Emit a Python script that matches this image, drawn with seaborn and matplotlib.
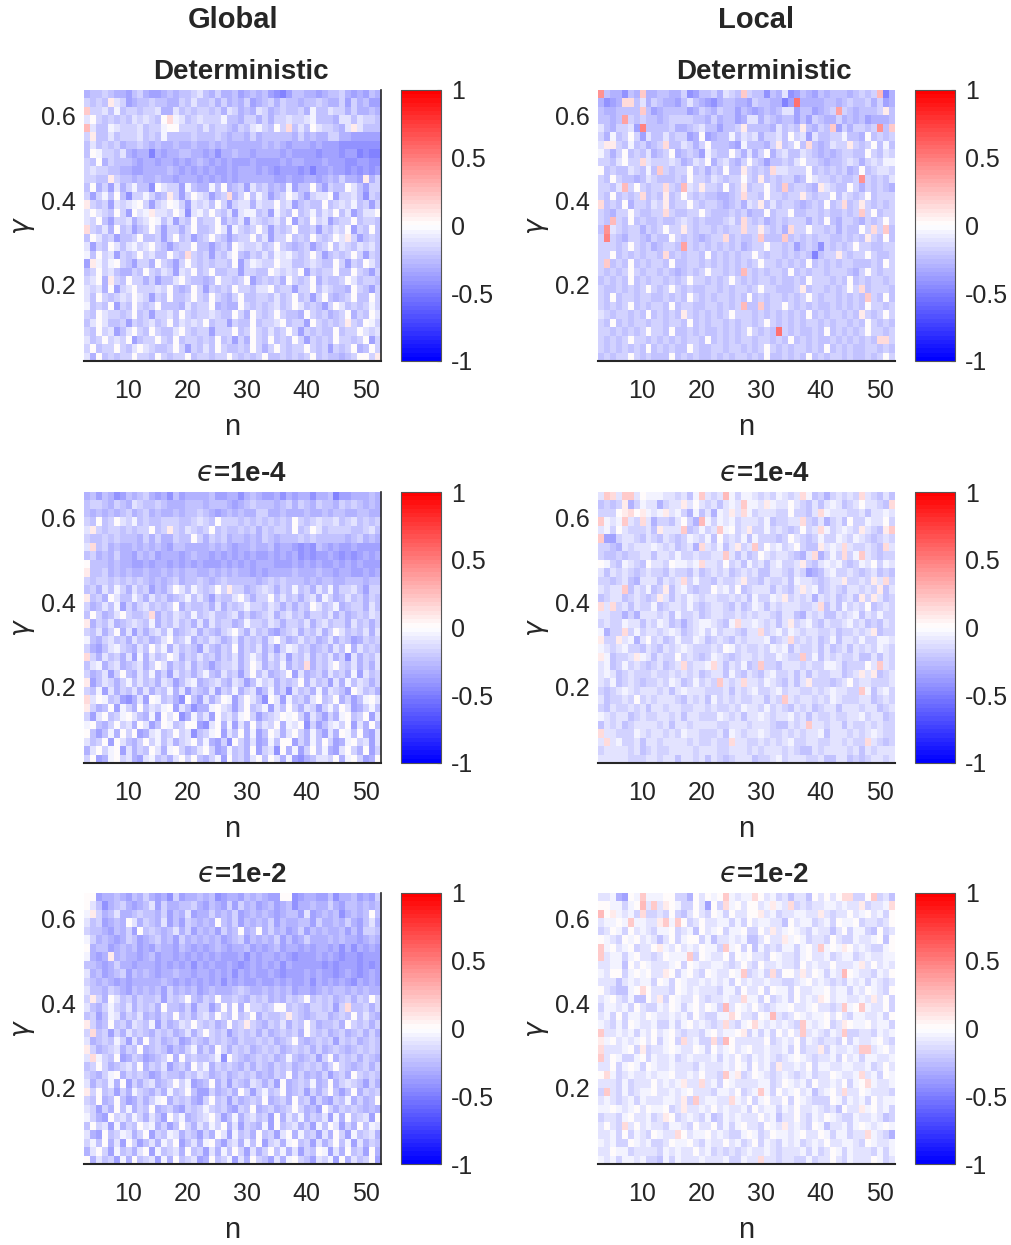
import matplotlib
matplotlib.use("Agg")
import matplotlib.pyplot as plt
import seaborn as sns
import numpy as np
import pandas as pd

# n on the x axis, gamma on the y axis (top row first)
n_vals = list(range(3, 53))
gamma_vals = [0.65, 0.63, 0.61, 0.59, 0.57, 0.55, 0.53, 0.51, 0.49, 0.47, 0.45,
              0.43, 0.41, 0.39, 0.37, 0.35, 0.33, 0.31, 0.29, 0.27, 0.25, 0.23,
              0.21, 0.19, 0.17, 0.15, 0.13, 0.11, 0.09, 0.07, 0.05, 0.03]

# cell codes: digits = negative, letters = positive
code_values = {
    "0": 0.0, "1": -0.06, "2": -0.12, "3": -0.18, "4": -0.24, "5": -0.30,
    "6": -0.36, "7": -0.42, "8": -0.48, "9": -0.54, "A": -0.60,
    "a": 0.07, "b": 0.14, "c": 0.21, "d": 0.28, "e": 0.35, "f": 0.42,
    "g": 0.49, "h": 0.56,
}

global_det = [
    "5443455643 5665454432 4535546545 4678644556 5443565645",
    "3434a23654 4344553424 4353545365 4353445443 4553635466",
    "c332414334 3325524343 3435235452 3543443514 4233535545",
    "2034343423 2340b12432 3331445335 3533233214 4452242334",
    "d244123332 4331003334 2433453421 3403b42402 33452a2444",
    "3a44243332 4341444434 4434544535 4444453545 5335566666",
    "4243435443 4545545545 5454555555 4545655565 6667777777",
    "4013342565 5856554455 6575545565 5556566667 6667668788",
    "3405344456 5565565654 5656566656 6665655666 5666776677",
    "3233445566 5555456565 6566565556 5676667686 6566767676",
    "3344a34454 5545565556 5656565555 5566566556 5453556a53",
    "4053625314 4702336145 5140543624 3545164404 6344024633",
    "3631404733 1354a36302 3643b53041 3643024632 2063324734",
    "a343623210 3632013623 2403632252 3303264344 0432314363",
    "2023403602 1a22302721 3034262114 3613404314 2304264220",
    "2304633253 2014263404 3305342623 4324063403 2643304334",
    "b342504364 3036335304 4302613430 3634304436 3423063404",
    "4024364430 4436304364 3034643304 2633043403 4302a36434",
    "2634024213 2034643304 4643502332 4303454364 3042342324",
    "1403263430 3244034b34 3634204534 2412134303 6434303634",
    "6a13103463 3503463034 3433406312 3302244323 4403634024",
    "4303245534 0342362304 3044336334 4023230634 3304403463",
    "3205a34033 5364420344 5403343064 3435034305 3443024334",
    "2325063203 3323045403 6343403342 2043363304 2344503463",
    "2403432302 3634044303 4034530443 3424304363 0454304403",
    "1434063403 4304445243 3054550343 4324302434 6302434313",
    "3402334304 3633240343 3234403503 4303445034 3543053402",
    "4202443634 3243042323 0433634404 3320433603 4343a34013",
    "3403264203 4034420343 3633304303 4243036343 4404330232",
    "2430323064 3303404334 3404363503 4043403634 3403343063",
    "3043303420 2344303634 2403443403 5303433034 3634305403",
    "2504343303 3403433043 3433034343 0443434304 344543003a",
]

local_det = [
    "f455745c55 4455376443 5234c34474 5276456454 4454343d85",
    "5765bb4253 4556424567 5445563445 586h555544 5434435365",
    "4554444c46 5444465345 3446456545 4226446543 e3454443a4",
    "4454e34344 5433334453 5446522534 5446463455 3545465554",
    "2453326g44 4435543244 6443a44445 2434a4534c 6353343f4c",
    "3514303624 4243365065 4414232533 2403262443 3144504343",
    "2aa3414354 3b44235304 4456144453 a4304b4542 33a3430414",
    "1353043425 4305434613 4403525305 3244234545 4334403423",
    "3342033b23 3323542305 3245303464 4342033454 4323532311",
    "0434423414 c343304353 4044a3434b 2233304343 4354043223",
    "3403445423 4443403342 3433034a43 4335402334 3443f34342",
    "3342d30343 3b34d23a33 4043a43303 4c43345a23 4403534345",
    "3404343b43 4a43034344 5543b33403 3433a34330 4234304333",
    "b434053342 3a43303433 4543523a42 4334543404 3b43a34343",
    "3453303443 3b34433034 4434354404 3304433434 4343c30433",
    "34d3404344 3443234344 4324b34354 3433353404 5334534303",
    "4f23433534 3033a34334 3433b33a34 35b3303343 534403b3c4",
    "3g34533453 4403434543 3b43443c44 4c43434334 43434a3404",
    "3334303435 4334e34343 4343543303 3436434734 3430334433",
    "3304343433 4b43433404 3434330343 3434348433 a343303443",
    "3c43404343 3404433434 3434343033 4343404343 4334443403",
    "3434303433 4345434303 3434d34343 3404343343 3345303433",
    "4343404343 3434303343 4303434334 3443403334 3404343343",
    "3443434303 4303434433 4343343033 4443a43343 4303b43334",
    "3404334334 4343403434 3343404343 3434303433 43434c3404",
    "3434304343 3404334433 4343d44c43 3034343443 4343403343",
    "2343343404 3434a34343 4303334343 4343404343 3434a34303",
    "3404343343 3433404343 3434334303 4343433434 3343403434",
    "3343434303 3404434344 3434303434 h343443404 3434303343",
    "3434303343 4343433404 3434334334 3404343443 4343434bb3",
    "3434343404 3434403443 3433434303 4343343404 3434433434",
    "4343303434 4404343443 4343343404 4343404343 3434434303",
]

global_e4 = [
    "5464576454 3565746555 5466557545 6657565575 5486655545",
    "4334534523 4434555444 5444565434 4454353453 4453434545",
    "4545454354 3545545443 4565454553 3554555455 4544554455",
    "3404302314 3443334432 3403334343 4343403432 3324324343",
    "2a34334343 3043a34234 3043443435 3433404302 4333344324",
    "3443434445 3535534403 5343544545 3454443434 4444543545",
    "2b43545545 4545644555 5454565545 5465567674 5656656666",
    "4354535564 5465556545 5656565656 6565657676 6567676565",
    "0444545566 5655656565 6665656565 5566656565 6656565666",
    "a443545455 4554545445 5454545565 6555545554 5565566565",
    "3433434343 4545435443 4543444445 4343444545 4455444544",
    "4352413524 3645302413 4303a33543 2353414352 4153324633",
    "a435024413 5243543142 4634420353 3042435325 1354243534",
    "3542416353 2434305344 3525343133 4235353402 4315433524",
    "4035420344 3b53423414 3244325354 3253243533 4253543423",
    "a534254323 4153424352 5243354133 4235334253 2433524353",
    "3425305263 5324154325 3453203524 3564325342 5302434252",
    "1453243524 3542043153 4235425343 5203542435 4253465343",
    "3564213452 4031524346 2453405342 5363124354 3524052434",
    "b352435261 5243025342 4353425313 5242634253 4253725342",
    "4215325432 5302534253 4643325302 5341534b53 4203425352",
    "3542630452 4153624353 1452436304 2543062543 5243516243",
    "a642353142 4352364215 4324523641 3253430524 3625142353",
    "3416253425 2534152634 5263415326 4153724351 5234602435",
    "b201436752 6014357046 2530163024 7026143520 4305364102",
    "a354061350 4231062475 5102363043 1624035236 3140265314",
    "3620431024 5160207514 2603241036 4320103624 6351043062",
    "1045303250 2640143006 7205162504 2305120736 4213062504",
    "0464150306 5214303274 3106240516 4025203514 6250140562",
    "2430602453 0314253204 1563703526 5140063514 0365103262",
    "5203106253 4025103542 0365143506 3270516304 1562035063",
    "3065103256 2143520304 5316043520 4025167542 2305103650",
]

local_e4 = [
    "2cb2cc2011 1223241c23 2d13112323 1232b14353 2323b23424",
    "4343a53122 5322a20232 4212c112a1 2202342421 243202234b",
    "3330ab0a12 1a21351425 12a2b13222 3303342b12 2233242212",
    "c121c23b25 3342035d13 1213222314 3322b34253 2403312203",
    "2130233324 a222c43132 c1032a3313 2343032b13 2123a234ac",
    "c663223423 4234312314 0323141333 4302343133 1231234323",
    "3345232221 2324325b23 142a32c302 1320344a21 2b233234b2",
    "3443433224 2231332332 2c24243023 223452b531 3b31c23433",
    "0134123402 2301121b22 3032413242 1332a34212 1343120312",
    "2423234323 3423342432 3243232442 2342365421 3323432434",
    "3343245222 4232b31334 2332a33423 3241223432 2a3323a2b3",
    "2322c42314 3a42134330 2130432224 2342a21432 3422323a42",
    "4322432343 a242312322 3323241331 2a32325232 4324a3a243",
    "b2b3242331 4322313432 2342431242 3222332b42 4132304323",
    "2233535222 3241332432 2332323223 4224523244 2321423133",
    "3233122423 1243532112 341b221232 42a3213423 3213243423",
    "1533b31322 3212432131 3223422b32 1312322332 433232a433",
    "a33a215203 2431331243 2342322214 32b3232431 4223133112",
    "1232133423 4232123332 3013233231 2142332424 3242323123",
    "a14332a124 2330323431 2343223233 1233c31423 2332442423",
    "2143132343 2432b3221b 2423143c33 4222323311 2433302c23",
    "2124323332 3323232432 2413423421 3324242332 2432a2a432",
    "2314323433 2312431323 c232b22312 34242a3334 3203223332",
    "3432123222 3242122233 3242321332 1322332321 2233c14213",
    "2433230323 2223423241 3232332242 3c23223231 2333224323",
    "3423323242 2322332232 3323122313 2342324322 4222322432",
    "1232243233 2232422333 1232422123 2213242332 3322132243",
    "4232432222 3242232222 3322232223 44232c2232 2423323233",
    "b223331232 2323122333 2412322123 3232322142 2232321233",
    "2b21332422 3222232332 33b2233232 3213322332 23233b2343",
    "3222232432 3322223222 3322232322 2323442322 2232423222",
    "2222233322 3224223242 3432224332 1322233244 2243432232",
]

global_e2 = [
    "0065545645 3565736554 5476556454 5660076556 6475546563",
    "0247543565 4263554435 6456363546 5465475545 5356445454",
    "1a35425543 4453645265 5354536545 4565446265 4547545404",
    "2436545025 3452646345 4504536454 5364554463 5545356425",
    "3445645360 4345425364 5463540540 5354653645 4554646334",
    "1354565346 5435463545 4546543645 4536465355 5454556545",
    "0544654546 5645564565 6545655465 6546556565 5657575656",
    "1565a54556 5465565656 5656665756 5565676665 6567667666",
    "4456535565 5565656575 6566567656 5657566666 7676667676",
    "2546543645 4565545565 5656575656 6567666565 6676567656",
    "3454565655 5554565656 5657565665 6656566575 6565675656",
    "2445345645 4546354546 5455543455 4545465565 4544545455",
    "3a35024353 4436343045 3404434534 3545343043 4354353403",
    "2453134253 4350445363 3640405033 4300434533 4363b44353",
    "4364125342 5453404353 2403404305 3443a34543 3543404245",
    "a354043523 4163542303 4354043a34 5342534035 4435034353",
    "3b43635243 4534354253 0343643435 3543435034 3543543535",
    "2543413625 0435436534 5343453443 4354304543 4363435434",
    "a354325340 5434645315 3503534354 3435434353 5434543434",
    "2b13406534 6543050434 4317034543 4354145436 3053435345",
    "4303543240 5342643503 1534345353 4534354343 5303454353",
    "3453105343 4653445342 3543543435 4534053545 3643503434",
    "2534150635 3254303165 4053634523 5360543415 4053234635",
    "a304363513 4535143046 6354350363 1430543635 3046405343",
    "3405404653 5310534356 3043635434 0543504363 5634153540",
    "2363504153 4054356343 1343563405 4354303546 0353434545",
    "1356032413 5246031543 2036415324 3605241534 2615043260",
    "4032615340 2153640352 4130526345 1604325361 4026350412",
    "2560431253 0634125346 3502614350 4362051436 2503614325",
    "3140526036 4251306425 1046325140 6325104362 5304162534",
    "5203614352 0614325043 6251403625 3041526340 1625043605",
    "0524361504 3261504326 5043162503 4625103462 3160524306",
]

local_e2 = [
    "2215601c11 1003350201 0c1211b021 3242240202 0bb330c324",
    "0011310d2c 2a01330260 3b1020021a 12b3232211 2122a3221b",
    "d0a1213b33 2303420230 1302200a21 3221122a23 2202102130",
    "21101c1122 ac1c032022 1131302112 2402113213 0110322320",
    "3201302123 1103214021 031103302a 2101231224 2031134032",
    "0123010212 4203100314 2212144202 2a10132230 2331221040",
    "c102103220 a120212011 3c10304132 3113102c10 1a02123310",
    "c211310223 20111c3012 2030102230 1223102213 2113212211",
    "2211402012 2210301221 1232023022 1223021220 2221a20212",
    "1200310102 2a03102301 2201c3213b 3002a20131 2d01223120",
    "2224212113 0130122121 2130212212 2332102123 2312131232",
    "0234410b02 2230121222 3113022030 1130221102 1131201230",
    "2102314402 a301220232 2122b11303 2130212a02 112212a203",
    "3112130233 1201310201 3d20120232 1102210223 2c10c12203",
    "2130311201 2212130233 11b022301d 2320121102 0231122130",
    "1231301221 3313102123 2b2310b121 2123c12103 2a01102113",
    "c221213120 2102322310 2110a31313 0202c21231 2c33223121",
    "a102121020 3103b2133b 3d02222203 2120312322 3031221023",
    "b222103a32 2101220130 2102102212 2130322a31 2212cc2102",
    "c201331031 2213212221 3120231212 3210123221 3021311221",
    "2203101301 2212223122 2120130213 a221203112 2112213202",
    "0b13212212 1102212022 3c1a320123 2123213220 1221b21301",
    "2223132220 2121a22b21 3012222113 2012130221 20310b1221",
    "3c23132110 2212102223 1120321c13 0210214210 2b22012223",
    "2123213122 2112a3c211 22b1203102 2030123330 1312130211",
    "1101210201 1032a22120 2122130211 3120221232 4022a10213",
    "3223102213 2a03212314 3121222021 4220231201 2331221243",
    "2023b20212 2311230220 3131022301 2a21230142 2131012101",
    "2213031230 122b021102 1233101320 1121022013 11322b1235",
    "1213301213 3201102312 2021320312 3121321202 2112301221",
    "2201132222 3121220213 2323212212 3222131320 1312223131",
    "1213112133 4131222122 2133122b22 3223313220 2312220132",
]

panels = [
    ("Deterministic", global_det, 0, 0),
    ("Deterministic", local_det, 0, 1),
    ("$\u03f5$=1e-4", global_e4, 1, 0),
    ("$\u03f5$=1e-4", local_e4, 1, 1),
    ("$\u03f5$=1e-2", global_e2, 2, 0),
    ("$\u03f5$=1e-2", local_e2, 2, 1),
]
col_headers = ["Global", "Local"]
cbar_ticks = [-1, -0.5, 0, 0.5, 1]
cbar_labels = ["-1", "-0.5", "0", "0.5", "1"]
x_tick_vals = [10, 20, 30, 40, 50]
y_tick_vals = [0.2, 0.4, 0.6]


def decode(rows):
    grid = []
    for r in rows:
        s = r.replace(" ", "")
        assert len(s) == len(n_vals), (len(s), r)
        grid.append([code_values[c] for c in s])
    assert len(grid) == len(gamma_vals)
    return pd.DataFrame(grid, index=gamma_vals, columns=n_vals)


sns.set_style("white")
plt.rcParams["font.family"] = ["Liberation Sans", "DejaVu Sans"]
plt.rcParams["mathtext.fontset"] = "dejavusans"

W, H = 1011, 1245
fig = plt.figure(figsize=(W / 100, H / 100), dpi=100)

col_left = [84, 598]
cbar_left = [401, 915]
row_top = [90, 492, 893]
map_w, map_h, cbar_w = 297, 271, 40
title_x = [0.53, 0.56]

cmap = plt.get_cmap("bwr", 64)

# tick positions inside the heatmap's cell coordinates
x_pos = [n_vals.index(v) + 0.5 for v in x_tick_vals]
g_asc = gamma_vals[::-1]
idx_asc = [len(gamma_vals) - 1 - i + 0.5 for i in range(len(gamma_vals))]
y_pos = [float(np.interp(v, g_asc, idx_asc)) for v in y_tick_vals]

for title, rows, r, c in panels:
    df = decode(rows)
    ax = fig.add_axes([col_left[c] / W, 1 - (row_top[r] + map_h) / H,
                       map_w / W, map_h / H])
    cax = fig.add_axes([cbar_left[c] / W, 1 - (row_top[r] + map_h) / H,
                        cbar_w / W, map_h / H])
    sns.heatmap(df, ax=ax, cbar_ax=cax, cmap=cmap, vmin=-1, vmax=1,
                xticklabels=False, yticklabels=False)

    ax.set_xticks(x_pos)
    ax.set_xticklabels([str(v) for v in x_tick_vals])
    ax.set_yticks(y_pos)
    ax.set_yticklabels([str(v) for v in y_tick_vals], rotation=0)
    ax.tick_params(axis="x", length=0, pad=13, labelsize=18, colors="#262626")
    ax.tick_params(axis="y", length=0, pad=6, labelsize=18, colors="#262626")
    ax.set_xlabel("n", fontsize=21, labelpad=7, color="#262626")
    ax.set_ylabel(r"$\gamma$", fontsize=19, labelpad=3, color="#262626")
    ax.set_title(title, fontsize=20, fontweight="bold", pad=8, x=title_x[c])

    ax.spines["bottom"].set_visible(True)
    ax.spines["bottom"].set_color("#262626")
    ax.spines["bottom"].set_linewidth(1.5)
    if c == 0:
        ax.spines["right"].set_visible(True)
        ax.spines["right"].set_color("#262626")
        ax.spines["right"].set_linewidth(1.2)

    cb = ax.collections[0].colorbar
    cb.set_ticks(cbar_ticks)
    cb.set_ticklabels(cbar_labels)
    cb.outline.set_linewidth(0.8)
    cb.outline.set_edgecolor("#555555")
    cax.tick_params(length=3, direction="in", pad=7, labelsize=18,
                    colors="#262626")

for c, name in enumerate(col_headers):
    cx = (col_left[c] + map_w * title_x[c]) / W
    fig.text(cx - 0.008, 1 - 20 / H, name, ha="center", va="center",
             fontsize=21, fontweight="bold")

fig.savefig("out.png", dpi=100)
